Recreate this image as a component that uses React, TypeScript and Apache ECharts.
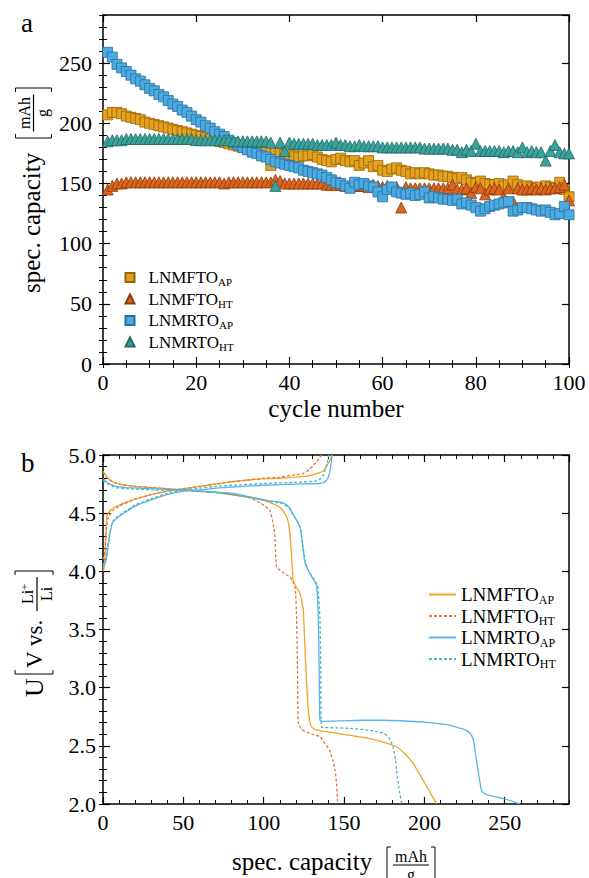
import React, { useEffect, useRef } from "react";
import * as echarts from "echarts";

// ---------- Panel a: capacity vs cycle ----------
const cycleNumbers = Array.from({ length: 100 }, (_, i) => i + 1);

const capLNMFTO_AP = [
  207, 209, 209, 208, 206, 205, 204, 203, 201, 200,
  199, 198, 197, 196, 195, 194, 193, 192, 191, 190,
  189, 188, 187, 186, 185, 184, 183, 182, 181, 180,
  179, 178, 177, 177, 176, 165, 176, 175, 174, 174,
  173, 172, 173, 173, 174, 172, 170, 169, 168, 170,
  171, 169, 168, 169, 165, 167, 169, 164, 165, 161,
  160, 162, 163, 161, 160, 158, 159, 158, 159, 158,
  157, 157, 156, 156, 155, 154, 155, 153, 151, 150,
  152, 150, 149, 149, 150, 148, 149, 152, 149, 147,
  148, 147, 146, 147, 148, 147, 146, 151, 145, 139,
];
const capLNMFTO_HT = [
  145, 148, 150, 150, 151, 151, 151, 151, 151, 151,
  151, 151, 151, 151, 151, 151, 151, 151, 151, 151,
  151, 151, 151, 151, 151, 150, 151, 151, 151, 151,
  151, 151, 151, 151, 151, 151, 153, 152, 150, 150,
  150, 150, 150, 150, 150, 150, 150, 149, 149, 149,
  149, 148, 148, 148, 148, 148, 147, 149, 148, 147,
  148, 147, 147, 130, 147, 146, 146, 146, 146, 146,
  146, 146, 146, 146, 149, 145, 145, 146, 142, 147,
  146, 141, 145, 146, 145, 139, 146, 135, 146, 145,
  145, 146, 145, 146, 145, 146, 146, 147, 149, 136,
];
const capLNMRTO_AP = [
  259, 255, 249, 246, 243, 240, 237, 235, 232, 229,
  227, 224, 222, 219, 216, 214, 211, 209, 206, 203,
  201, 198, 196, 193, 191, 189, 186, 184, 182, 180,
  178, 176, 175, 173, 172, 170, 168, 167, 166, 165,
  164, 163, 161, 160, 159, 158, 157, 155, 153, 151,
  150, 148, 146, 151, 149, 150, 148, 147, 143, 139,
  145, 147, 143, 142, 141, 142, 140, 141, 143, 138,
  139, 138, 137, 137, 136, 137, 133, 134, 132, 130,
  127, 129, 131, 132, 133, 134, 135, 127, 128, 130,
  130, 129, 128, 127, 128, 126, 124, 125, 131, 124,
];
const capLNMRTO_HT = [
  185, 186, 186, 186, 187, 187, 187, 187, 187, 187,
  187, 187, 187, 187, 187, 187, 187, 187, 187, 186,
  186, 186, 186, 186, 186, 186, 186, 185, 185, 185,
  185, 185, 185, 185, 185, 184, 148, 184, 177, 184,
  183, 183, 183, 183, 183, 182, 182, 182, 182, 184,
  182, 182, 181, 181, 182, 181, 181, 181, 181, 180,
  180, 180, 180, 180, 180, 180, 180, 180, 179, 179,
  179, 179, 179, 179, 178, 178, 176, 178, 177, 183,
  177, 177, 177, 177, 177, 176, 177, 177, 176, 180,
  176, 177, 176, 176, 169, 177, 182, 176, 175, 175,
];

// ---------- Panel b: voltage profiles [capacity, U] ----------
const chargeLNMFTO_AP = [
  [0, 4.0], [1, 4.05], [1.8, 4.3], [2.5, 4.48], [5, 4.53], [10, 4.57], [20, 4.62], [30, 4.66],
  [40, 4.69], [50, 4.71], [60, 4.73], [70, 4.75], [80, 4.77], [90, 4.785], [100, 4.795],
  [110, 4.8], [120, 4.81], [128, 4.82], [133, 4.84], [137, 4.86], [139, 4.9], [141, 4.95], [142.5, 5.0],
];
const dischargeLNMFTO_AP = [
  [0, 4.86], [3, 4.8], [6, 4.77], [10, 4.75], [20, 4.73], [30, 4.72], [40, 4.71], [50, 4.7],
  [60, 4.69], [70, 4.68], [80, 4.66], [90, 4.64], [100, 4.61], [106, 4.58], [110, 4.55],
  [113, 4.5], [115, 4.44], [116.5, 4.3], [117.5, 4.1], [118.3, 3.93], [120, 3.87], [122.6, 3.81],
  [124.6, 3.67], [125.5, 3.4], [126.5, 3.1], [127.5, 2.85], [128.8, 2.7], [130, 2.66], [132, 2.64],
  [140, 2.62], [153.7, 2.59], [165, 2.565], [174, 2.535], [182.7, 2.49], [188, 2.43], [193, 2.35],
  [199, 2.21], [204, 2.09], [207.6, 2.0],
];
const chargeLNMFTO_HT = [
  [0, 4.1], [1, 4.15], [2, 4.35], [3, 4.45], [6, 4.52], [10, 4.56], [20, 4.62], [30, 4.66],
  [40, 4.69], [50, 4.71], [60, 4.73], [70, 4.75], [80, 4.77], [90, 4.785], [100, 4.8],
  [110, 4.81], [120, 4.83], [124.5, 4.84], [128, 4.87], [130.7, 4.91], [134, 4.96], [136, 5.0],
];
const dischargeLNMFTO_HT = [
  [0, 4.85], [3, 4.8], [6, 4.77], [10, 4.75], [20, 4.73], [30, 4.72], [40, 4.71], [50, 4.7],
  [60, 4.69], [70, 4.68], [80, 4.66], [91.5, 4.63], [97.7, 4.59], [101, 4.56], [104, 4.52],
  [106, 4.4], [107, 4.3], [108, 4.04], [112, 3.99], [116.4, 3.95], [119.5, 3.87], [120.5, 3.58],
  [121, 3.2], [121.5, 2.7], [123.6, 2.64], [130, 2.6], [135, 2.58], [141, 2.46], [143, 2.38],
  [144.4, 2.29], [145.5, 2.15], [146, 2.0],
];
const chargeLNMRTO_AP = [
  [0, 4.03], [2, 4.1], [4, 4.3], [6, 4.42], [9, 4.46], [12, 4.49], [20, 4.56], [29, 4.61],
  [40, 4.66], [50, 4.69], [60, 4.7], [70, 4.715], [80, 4.725], [100, 4.74], [120, 4.75],
  [135, 4.755], [138, 4.77], [140, 4.8], [141.5, 4.88], [142.5, 5.0],
];
const dischargeLNMRTO_AP = [
  [0, 4.8], [3, 4.76], [8, 4.73], [14.7, 4.72], [30, 4.71], [50, 4.7], [60, 4.69], [70, 4.68],
  [81, 4.67], [91.5, 4.64], [102, 4.61], [112, 4.59], [116, 4.55], [118, 4.5], [120.5, 4.44],
  [122.6, 4.38], [123.6, 4.3], [124.5, 4.2], [125.7, 4.07], [128.8, 3.98], [131, 3.93], [133, 3.87],
  [134, 3.58], [134.5, 3.2], [135, 2.72], [137, 2.71], [150, 2.715], [164, 2.72], [174, 2.72],
  [203.5, 2.7], [215, 2.68], [220, 2.66], [225, 2.64], [228.4, 2.61], [230.5, 2.55], [231.5, 2.46],
  [233.6, 2.27], [235.7, 2.11], [238.7, 2.08], [245, 2.06], [251, 2.04], [259.5, 2.0],
];
const chargeLNMRTO_HT = [
  [0, 4.05], [2, 4.12], [4, 4.32], [6, 4.43], [9, 4.47], [12, 4.5], [20, 4.57], [29, 4.62],
  [40, 4.67], [50, 4.7], [60, 4.715], [70, 4.73], [80, 4.74], [100, 4.755], [120, 4.765],
  [132, 4.775], [136, 4.8], [138, 4.86], [139.5, 4.93], [140.5, 5.0],
];
const dischargeLNMRTO_HT = [
  [0, 4.78], [3, 4.75], [8, 4.72], [15, 4.71], [30, 4.7], [50, 4.695], [60, 4.685], [70, 4.675],
  [81, 4.66], [91.5, 4.635], [102, 4.605], [112, 4.58], [116, 4.54], [118, 4.49], [121, 4.43],
  [123, 4.36], [124.5, 4.2], [126, 4.08], [128, 4.0], [131, 3.94], [133.5, 3.88], [135, 3.6],
  [135.5, 3.2], [136, 2.66], [145, 2.655], [153.7, 2.65], [165, 2.635], [174.4, 2.61], [178, 2.57],
  [180.5, 2.49], [182, 2.38], [182.7, 2.29], [184, 2.15], [185.9, 2.0],
];

const FONT = "Liberation Serif";

function makeAxes(
  dim: "x" | "y",
  gridIndex: number,
  min: number,
  max: number,
  major: number,
  minor: number,
  labelOpts: any
) {
  const sides = dim === "x" ? ["bottom", "top"] : ["left", "right"];
  const out: any[] = [];
  sides.forEach((pos, si) => {
    out.push({
      type: "value",
      gridIndex,
      position: pos,
      min,
      max,
      interval: major,
      axisLine: { show: true, onZero: false, lineStyle: { color: "#000", width: 1.5 } },
      axisTick: { show: true, inside: true, length: 7, lineStyle: { color: "#000", width: 1.2 } },
      axisLabel: si === 0 ? labelOpts : { show: false },
      splitLine: { show: false },
    });
    out.push({
      type: "value",
      gridIndex,
      position: pos,
      min,
      max,
      interval: minor,
      axisLine: { show: false },
      axisTick: { show: true, inside: true, length: 4, lineStyle: { color: "#000", width: 1 } },
      axisLabel: { show: false },
      splitLine: { show: false },
    });
  });
  return out;
}

const legendFormatter = (name: string) => {
  const [a, b] = name.replace("b:", "").split("_");
  return `{m|${a}}{s|${b}}`;
};

export default function App() {
  const ref = useRef<HTMLDivElement>(null);
  useEffect(() => {
    document.body.style.margin = "0";
    const chart = echarts.init(ref.current!, undefined, { renderer: "svg" });
    const tickLabel = { show: true, color: "#000", fontFamily: FONT, fontSize: 22 };

    const xAxes = [
      ...makeAxes("x", 0, 0, 100, 20, 5, { ...tickLabel, margin: 7 }),
      ...makeAxes("x", 1, 0, 290, 50, 10, { ...tickLabel, margin: 7, showMaxLabel: false }),
    ];
    const yAxes = [
      ...makeAxes("y", 0, 0, 290, 50, 10, { ...tickLabel, margin: 11, showMaxLabel: false }),
      ...makeAxes("y", 1, 2, 5, 0.5, 0.1, {
        ...tickLabel,
        margin: 7,
        formatter: (v: number) => v.toFixed(1),
      }),
    ];

    const scatter = (name: string, arr: number[], symbol: string, size: number, fill: string, edge: string) => ({
      type: "scatter",
      name,
      xAxisIndex: 0,
      yAxisIndex: 0,
      symbol,
      symbolSize: size,
      itemStyle: { color: fill, borderColor: edge, borderWidth: 0.8, opacity: 1 },
      data: cycleNumbers.map((c, i) => [c, arr[i]]),
    });

    const line = (name: string, data: number[][], color: string, dashed: boolean) => ({
      type: "line",
      name,
      xAxisIndex: 4,
      yAxisIndex: 4,
      showSymbol: false,
      symbol: "none",
      smooth: 0.15,
      lineStyle: { color, width: 1.3, type: dashed ? [3, 2] : "solid" },
      itemStyle: { color },
      data,
    });

    const rich = (m: number, s: number, pad: number) => ({
      m: { fontSize: m, fontFamily: FONT, color: "#000" },
      s: { fontSize: s, fontFamily: FONT, color: "#000", padding: [pad, 0, 0, 0] },
    });

    const bracket = (x: number, y1: number, y2: number, dir: number) => ({
      type: "polyline",
      shape: { points: [[x + 4 * dir, y1], [x, y1], [x, y2], [x + 4 * dir, y2]] },
      style: { stroke: "#000", fill: "none", lineWidth: 1 },
    });
    const txt = (text: string, x: number, y: number, size: number, align: string, va: string) => ({
      type: "text",
      x,
      y,
      style: { text, fontSize: size, fontFamily: FONT, fill: "#000", align, verticalAlign: va },
    });

    chart.setOption({
      animation: false,
      backgroundColor: "#fff",
      grid: [
        { left: 103, right: 20, top: 15, height: 349 },
        { left: 103, right: 20, top: 455, height: 349 },
      ],
      xAxis: xAxes,
      yAxis: yAxes,
      legend: [
        {
          data: [
            { name: "LNMFTO_AP", icon: "rect" },
            { name: "LNMFTO_HT", icon: "triangle" },
            { name: "LNMRTO_AP", icon: "rect" },
            { name: "LNMRTO_HT", icon: "triangle" },
          ],
          orient: "vertical",
          left: 124.5,
          top: 269,
          padding: 0,
          itemWidth: 9,
          itemHeight: 9,
          itemGap: 3,
          selectedMode: false,
          formatter: legendFormatter,
          textStyle: { padding: [0, 0, 0, 9], rich: rich(17, 11, 9) },
        },
        {
          data: ["b:LNMFTO_AP", "b:LNMFTO_HT", "b:LNMRTO_AP", "b:LNMRTO_HT"],
          orient: "vertical",
          left: 428,
          top: 585,
          padding: 0,
          itemWidth: 27,
          itemHeight: 12,
          itemGap: 1,
          selectedMode: false,
          formatter: legendFormatter,
          itemStyle: { opacity: 0 },
          textStyle: { rich: rich(19, 12, 10) },
        },
      ],
      graphic: [
        txt("a", 21, 23, 27, "left", "middle"),
        txt("b", 21, 463, 27, "left", "middle"),
        txt("cycle number", 336, 408.5, 25, "center", "middle"),
        {
          type: "group",
          x: 31,
          y: 190.5,
          rotation: Math.PI / 2,
          children: [
            txt("spec. capacity", -102.5, 0, 25, "left", "middle"),
            bracket(52.5, -15.5, 20.5, 1),
            { type: "line", shape: { x1: 59, y1: 2.5, x2: 96, y2: 2.5 }, style: { stroke: "#000", lineWidth: 1.2 } },
            txt("mAh", 77.5, 1, 16, "center", "bottom"),
            txt("g", 77.5, 3.5, 16, "center", "top"),
            bracket(102.5, -15.5, 20.5, -1),
          ],
        },
        txt("spec. capacity", 232, 861, 25, "left", "middle"),
        bracket(387, 847, 884, 1),
        { type: "line", shape: { x1: 393, y1: 865, x2: 429, y2: 865 }, style: { stroke: "#000", lineWidth: 1.2 } },
        txt("mAh", 411, 864, 16, "center", "bottom"),
        txt("g", 411, 866, 16, "center", "top"),
        bracket(435, 847, 884, -1),
        {
          type: "group",
          x: 34,
          y: 631,
          rotation: Math.PI / 2,
          children: [
            txt("U", -66, 0, 26, "left", "middle"),
            bracket(-43, -19, 19, 1),
            txt("V vs.", -37, 0, 23, "left", "middle"),
            { type: "line", shape: { x1: 20, y1: 3, x2: 54, y2: 3 }, style: { stroke: "#000", lineWidth: 1.2 } },
            txt("Li", 34, 1.5, 16, "center", "bottom"),
            txt("+", 44, -10, 11, "center", "middle"),
            txt("Li", 37, 4.5, 16, "center", "top"),
            bracket(60, -19, 19, -1),
          ],
        },
      ],
      series: [
        scatter("LNMFTO_AP", capLNMFTO_AP, "rect", 10, "#E4A11B", "#95650C"),
        scatter("LNMFTO_HT", capLNMFTO_HT, "triangle", 11, "#DC641E", "#8A3A0A"),
        scatter("LNMRTO_AP", capLNMRTO_AP, "rect", 10, "#4BAAE1", "#2B6E9A"),
        scatter("LNMRTO_HT", capLNMRTO_HT, "triangle", 11, "#3CA09B", "#1F6B66"),
        line("b:LNMFTO_AP", chargeLNMFTO_AP, "#F0A428", false),
        line("b:LNMFTO_AP", dischargeLNMFTO_AP, "#F0A428", false),
        line("b:LNMFTO_HT", chargeLNMFTO_HT, "#E6783C", true),
        line("b:LNMFTO_HT", dischargeLNMFTO_HT, "#E6783C", true),
        line("b:LNMRTO_AP", chargeLNMRTO_AP, "#5AB4EB", false),
        line("b:LNMRTO_AP", dischargeLNMRTO_AP, "#5AB4EB", false),
        line("b:LNMRTO_HT", chargeLNMRTO_HT, "#50B9BE", true),
        line("b:LNMRTO_HT", dischargeLNMRTO_HT, "#50B9BE", true),
      ],
    });
    return () => chart.dispose();
  }, []);
  return (
    <div
      ref={ref}
      style={{ position: "absolute", left: 0, top: 0, width: 589, height: 878, background: "#fff" }}
    />
  );
}
